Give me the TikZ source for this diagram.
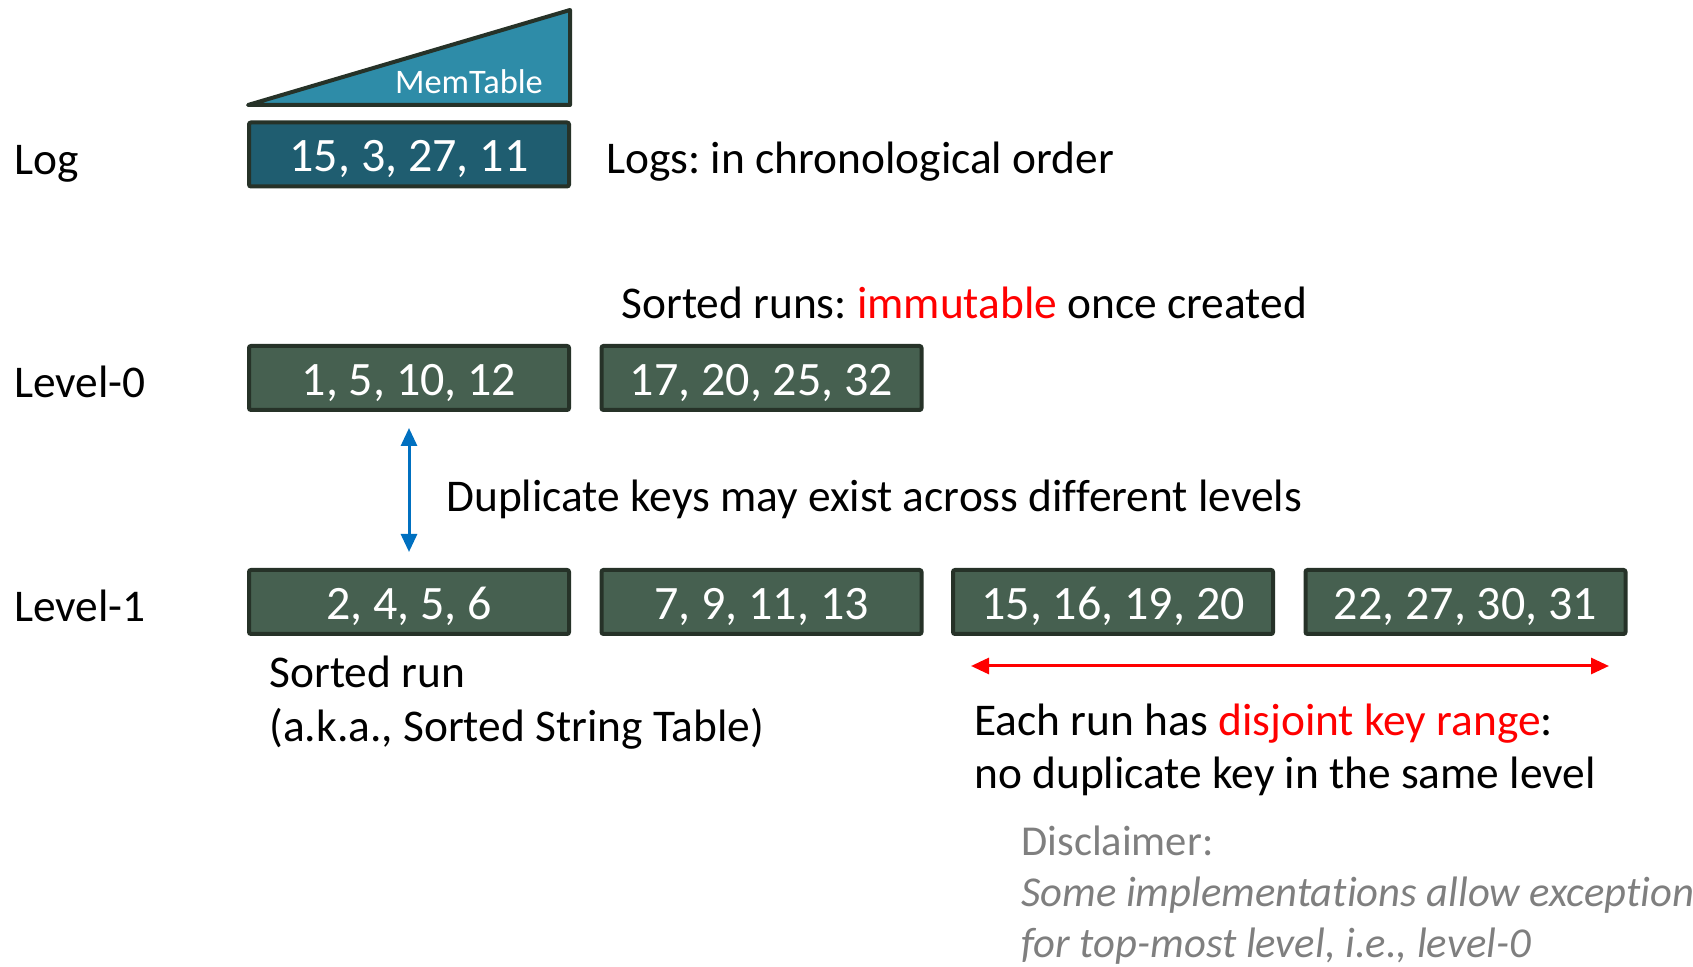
\documentclass[tikz,border=0pt]{standalone}
\usepackage{fontspec}
\setmainfont{Carlito}[Ligatures=NoCommon]
\usetikzlibrary{arrows.meta}
\definecolor{runfill}{HTML}{466050}
\definecolor{runedge}{HTML}{263228}
\definecolor{logfill}{HTML}{1F5D70}
\definecolor{memfill}{HTML}{2E8CA8}
\definecolor{arrblue}{HTML}{0070C0}
\definecolor{grtext}{HTML}{7F7F7F}
\tikzset{
  runbox/.style={draw=runedge, fill=runfill, line width=2pt, rounded corners=1pt,
    minimum width=160pt, minimum height=32pt, inner sep=0pt, text=white,
    text height=17.5pt, text depth=0pt,
    font=\fontsize{24}{28}\selectfont},
  logbox/.style={runbox, fill=logfill},
  lbl/.style={anchor=west, inner sep=0pt, text height=14.6pt, text depth=0pt,
    font=\fontsize{22.7}{26.7}\selectfont},
  note/.style={anchor=west, inner sep=0pt, align=left, font=\fontsize{22.7}{26.7}\selectfont},
  dblarrow/.style={{Triangle[length=9pt,width=8pt]}-{Triangle[length=9pt,width=8pt]}, line width=1.5pt},
}
\frenchspacing
\begin{document}
\frenchspacing
\begin{tikzpicture}[x=0.5pt,y=-0.5pt]
\useasboundingbox (0,0) rectangle (1693,967);
% MemTable triangle
\filldraw[draw=runedge, fill=memfill, line width=2pt, line join=round] (248,105) -- (570,10) -- (570,105) -- cycle;
\node[inner sep=0pt, text=white, font=\fontsize{17.2}{20}\selectfont] (mem) at (469,82) {MemTable};
% Log
\node[lbl] (loglbl) at (14,160) {Log};
\node[logbox] (log) at (409,154.5) {15, 3, 27, 11};
\node[lbl] (logtxt) at (606,159) {Logs: in chronological order};
% Level-0
\node[lbl] (sortedtxt) at (621,304) {Sorted runs: \textcolor{red}{immutable} once created};
\node[lbl] (l0lbl) at (14,383) {Level-0};
\node[runbox] (a1) at (409,378) {1, 5, 10, 12};
\node[runbox] (a2) at (761.5,378) {17, 20, 25, 32};
% Duplicate
\node[lbl] (duptxt) at (446,497) {Duplicate keys may exist across different levels};
% Level-1
\node[lbl] (l1lbl) at (14,607) {Level-1};
\node[runbox] (b1) at (409,602) {2, 4, 5, 6};
\node[runbox] (b2) at (761.5,602) {7, 9, 11, 13};
\node[runbox] (b3) at (1113,602) {15, 16, 19, 20};
\node[runbox] (b4) at (1465.5,602) {22, 27, 30, 31};
\draw[dblarrow, arrblue, shorten <=8pt, shorten >=8pt] (a1.south) -- (b1.north);
% notes
\node[note] (sstable) at (269,702.5) {Sorted run\\(a.k.a., Sorted String Table)};
\coordinate (rl) at (971,666);
\coordinate (rr) at (1609,666);
\draw[dblarrow, red] (rl) -- (rr);
\node[note] (disjoint) at (974,750) {Each run has \textcolor{red}{disjoint key range}:\\no duplicate key in the same level};
\node[note, text=grtext, font=\fontsize{21.3}{25.6}\selectfont] (discl) at (1021,895) {Disclaimer:\\\textit{Some implementations allow exception}\\\textit{for top-most level, i.e., level-0}};
\end{tikzpicture}
\end{document}
